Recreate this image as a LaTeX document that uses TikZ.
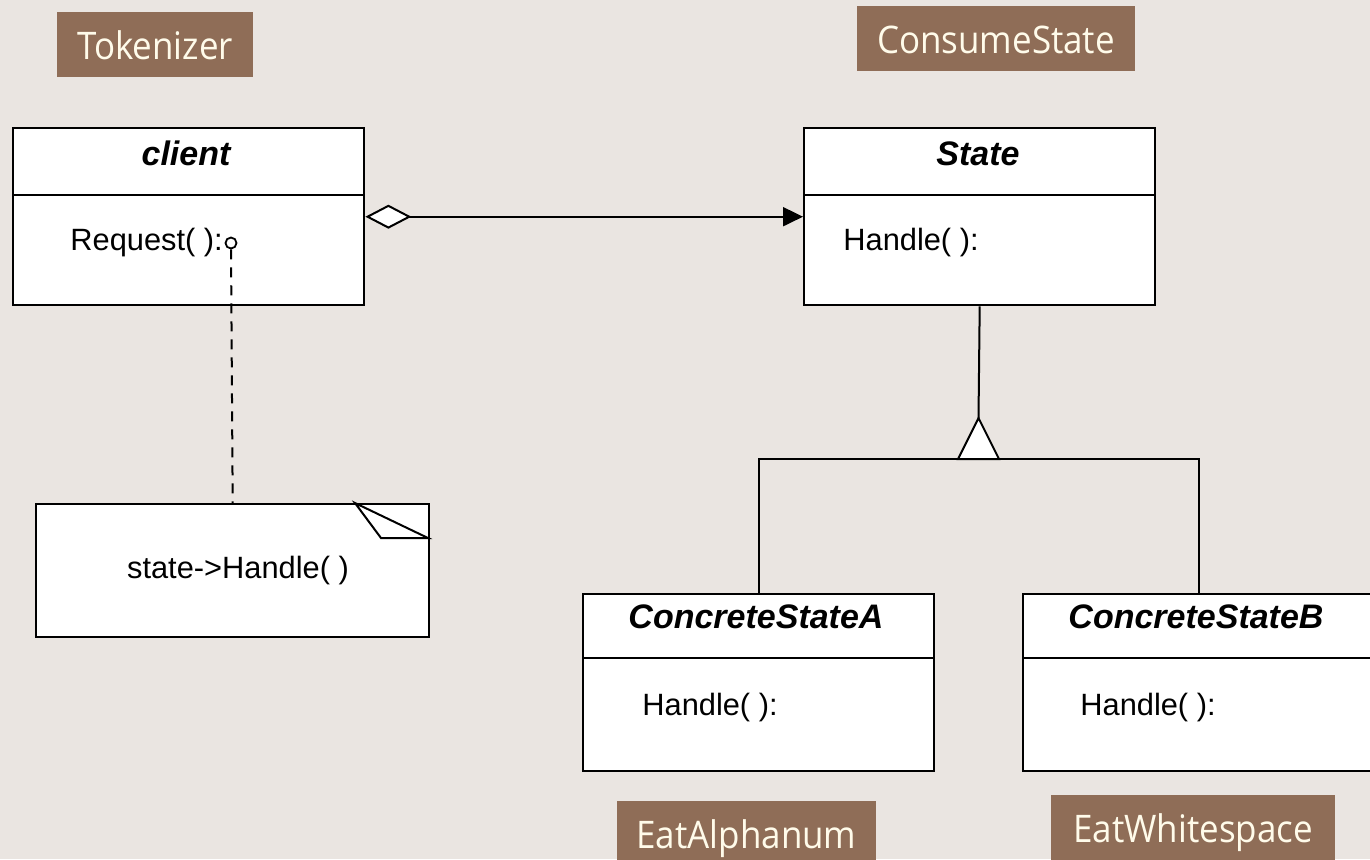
\documentclass[tikz,border=0pt]{standalone}
\usepackage{fontspec}
\setmainfont{Liberation Sans}
\newfontfamily\tagfont[FakeStretch=0.92]{Open Sans}
\usetikzlibrary{arrows.meta}
\definecolor{paper}{HTML}{EAE5E1}
\definecolor{tagfill}{HTML}{8F6D57}
\definecolor{tagtext}{HTML}{FFFBEA}
\begin{document}
\begin{tikzpicture}[x=0.5pt,y=-0.5pt,
  classbox/.style={draw=black, line width=1.2pt, fill=white, minimum width=175.5pt,
    minimum height=88.5pt, anchor=north west, inner sep=0pt},
  classname/.style={font=\fontsize{17}{19}\selectfont\bfseries\itshape, anchor=base, inner sep=0pt},
  member/.style={font=\fontsize{15.4}{18}\selectfont, anchor=base west, inner sep=0pt},
  tag/.style={fill=tagfill, text=tagtext, font=\tagfont\fontsize{19}{22}\selectfont,
    minimum height=32.5pt, text height=18pt, text depth=3.2pt, inner sep=0pt},
  link/.style={line width=1pt},
  divider/.style={line width=1.2pt}
]
\useasboundingbox (0,0) rectangle (1370,859);
\fill[paper] (0,0) rectangle (1370,859);
\clip (0,0) rectangle (1370,859);

% package / role labels
\node[tag, minimum width=98pt]    (tokenizer) at (155,44.5)    {Tokenizer};
\node[tag, minimum width=139pt]   (consume)   at (996,38.5)    {ConsumeState};
\node[tag, minimum width=129.5pt] (alpha)     at (746.5,833.5) {EatAlphanum};
\node[tag, minimum width=142pt]   (whitesp)   at (1193,827.5)  {EatWhitespace};

% classes
\node[classbox] (client) at (12,127) {};
\draw[divider] (12,195) -- (363,195);
\node[classname] (clientname) at (186,165) {client};
\node[member] (request) at (70,250) {Request( ):};

\node[classbox] (state) at (803,127) {};
\draw[divider] (803,195) -- (1154,195);
\node[classname] (statename) at (978,165) {State};
\node[member] (statehandle) at (843,250) {Handle( ):};

\node[classbox] (ca) at (582,593) {};
\draw[divider] (582,658) -- (933,658);
\node[classname] (caname) at (756,628) {ConcreteStateA};
\node[member] (cahandle) at (642,715) {Handle( ):};

\node[classbox] (cb) at (1022,593) {};
\draw[divider] (1022,658) -- (1373,658);
\node[classname] (cbname) at (1196,628) {ConcreteStateB};
\node[member] (cbhandle) at (1080,715) {Handle( ):};

% note attached to Request()
\node[draw=black, line width=1.2pt, fill=white, minimum width=196.5pt, minimum height=66.5pt,
  anchor=north west, inner sep=0pt] (note) at (35,503) {};
\draw[line width=1pt] (355,503) -- (381,538) -- (428,538) -- cycle;
\node[font=\fontsize{15.4}{18}\selectfont] (notetext) at (238,571) {state->Handle( )};

\node[circle, draw=black, fill=white, line width=0.9pt, minimum size=5.5pt, inner sep=0pt] (port) at (231,243) {};
\draw[link, dash pattern=on 5pt off 4pt] (port.south) -- (note.north);

% aggregation client -> State
\draw[link, {Diamond[open, fill=white, length=23pt, width=12pt]}-{Triangle[length=10pt, width=9.5pt]}]
  (client.east) -- (state.west);

% generalization: hollow triangle standing on the branch line
\coordinate (join) at (978.5,459);
\coordinate (apex) at (978.5,418);
\draw[link] (ca.north) |- (join) -| (cb.north);
\draw[link] (state.south) -- (apex);
\draw[link, fill=white, line join=miter] (apex) -- ([xshift=-10.25pt]join) -- ([xshift=10.25pt]join) -- cycle;
\end{tikzpicture}
\end{document}
